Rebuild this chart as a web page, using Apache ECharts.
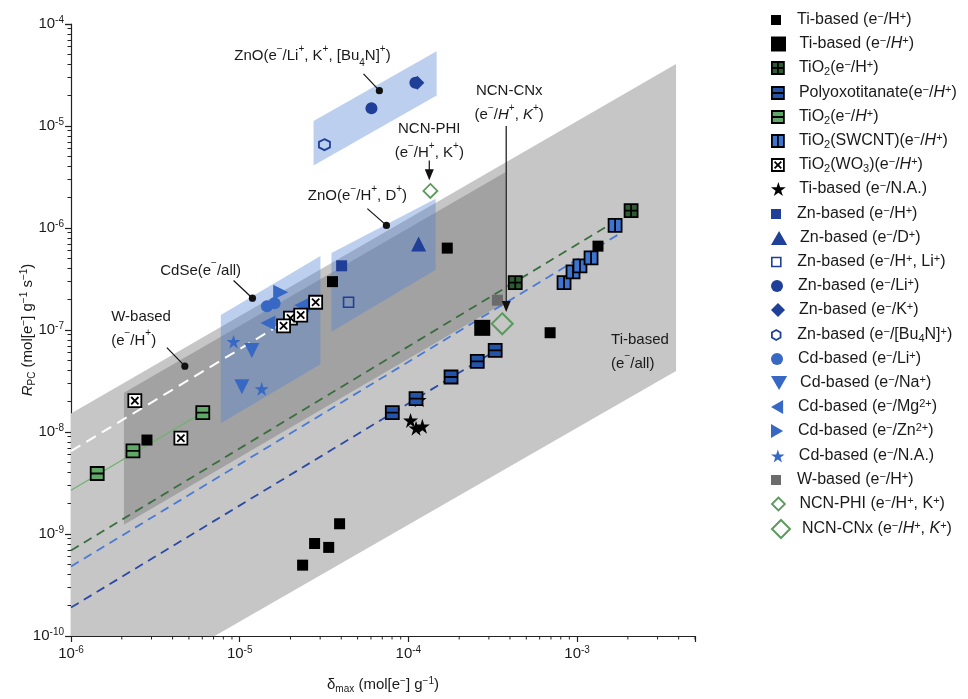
<!DOCTYPE html>
<html><head><meta charset="utf-8">
<script src="https://cdn.jsdelivr.net/npm/echarts@6/dist/echarts.min.js"></script>
<style>html,body{margin:0;padding:0;background:#fff}#c{width:968px;height:699px}</style>
</head><body><div id="c"></div>
<script>
const FONT = '"Liberation Sans", Arial, Helvetica, sans-serif';

// ---------- tick labels (exponents of 10) ----------
const xTickExp = [-6, -5, -4, -3];
const yTickExp = [-10, -9, -8, -7, -6, -5, -4];
const xMinorTicks = [2e-6,3e-6,4e-6,5e-6,6e-6,7e-6,8e-6,9e-6,
  2e-5,3e-5,4e-5,5e-5,6e-5,7e-5,8e-5,9e-5,
  2e-4,3e-4,4e-4,5e-4,6e-4,7e-4,8e-4,9e-4,
  2e-3,3e-3,4e-3,5e-3];

// ---------- marker data [delta_max, R_PC] ----------
const tiSmall = [[2.82e-6,8.34e-9],[2.36e-5,4.95e-10],[2.78e-5,8.07e-10],[3.37e-5,7.39e-10],[3.91e-5,1.26e-9],[3.55e-5,2.98e-7],[1.70e-4,6.35e-7],[6.92e-4,9.4e-8],[1.33e-3,6.64e-7]];
const tiLarge = [[2.74e-4,1.05e-7]];
const tio2Cross = [[4.30e-4,2.92e-7],[2.09e-3,1.48e-6]];
const polyoxo = [[8.03e-5,1.55e-8],[1.11e-4,2.12e-8],[1.79e-4,3.46e-8],[2.56e-4,4.93e-8],[3.27e-4,6.3e-8]];
const tio2Green = [[1.43e-6,3.92e-9],[2.33e-6,6.53e-9],[6.04e-6,1.55e-8]];
const swcnt = [[8.37e-4,2.92e-7],[9.46e-4,3.72e-7],[1.04e-3,4.26e-7],[1.21e-3,5.09e-7],[1.68e-3,1.06e-6]];
const wo3 = [[2.39e-6,2.03e-8],[4.48e-6,8.7e-9],[2.0e-5,1.31e-7],[1.82e-5,1.10e-7],[2.30e-5,1.40e-7],[2.82e-5,1.87e-7]];
const tiStar = [[1.16e-4,2.07e-8],[1.03e-4,1.30e-8],[1.11e-4,1.09e-8],[1.21e-4,1.14e-8]];
const znH = [[4.02e-5,4.26e-7]];
const znD = [[1.15e-4,6.95e-7]];
const znHLi = [[4.42e-5,1.87e-7]];
const znLi = [[6.04e-5,1.49e-5],[1.10e-4,2.66e-5]];
const znK = [[1.13e-4,2.66e-5]];
const znBu = [[3.18e-5,6.56e-6]];
const cdLi = [[1.45e-5,1.71e-7],[1.61e-5,1.83e-7]];
const cdNa = [[1.18e-5,6.3e-8],[1.03e-5,2.77e-8]];
const cdMg = [[1.47e-5,1.17e-7],[2.33e-5,1.75e-7]];
const cdZn = [[1.75e-5,2.34e-7]];
const cdNA = [[9.2e-6,7.69e-8],[1.35e-5,2.65e-8]];
const wH = [[3.37e-4,1.96e-7]];
const ncnPhi = [[1.35e-4,2.31e-6]];
const ncnCnx = [[3.60e-4,1.15e-7]];

// ---------- shaded regions (corner values) ----------
const bandTi = [[1e-6,1.52e-8],[3.86e-3,4.05e-5],[3.86e-3,3.96e-8],[7.1e-6,1e-10],[1e-6,1e-10]];
const bandW = [[2.06e-6,2.42e-8],[3.75e-4,3.52e-6],[3.75e-4,1.87e-7],[2.06e-6,1.23e-9]];
const bandCdSe = [[7.73e-6,1.40e-7],[3.01e-5,5.32e-7],[3.01e-5,4.61e-8],[7.73e-6,1.22e-8]];
const bandZnHD = [[3.50e-5,5.69e-7],[1.45e-4,1.93e-6],[1.45e-4,3.90e-7],[3.50e-5,9.62e-8]];
const bandZnLi = [[2.74e-5,1.12e-5],[1.47e-4,5.42e-5],[1.47e-4,1.99e-5],[2.74e-5,4.11e-6]];

// ---------- guide lines (end points) ----------
const lineWhite = [[1e-6,6.5e-9],[3.05e-5,1.98e-7]];
const lineGreen = [[1e-6,2.68e-9],[6.04e-6,1.55e-8]];
const lineDkGreen = [[1e-6,6.9e-10],[1.55e-3,1.07e-6]];
const lineBlue = [[1e-6,4.8e-10],[1.77e-3,8.7e-7]];
const lineDkBlue = [[1e-6,1.9e-10],[3.3e-4,6.3e-8]];

// ---------- annotations ----------
const annoPos = [[2.70e-5,4.84e-5],[1.33e-4,7.16e-6],[3.96e-4,1.67e-5],[4.99e-5,2.07e-6],[5.87e-6,3.81e-7],[1.73e-6,1.03e-7],[1.59e-3,6.17e-8]];
const annoText = [
  'ZnO(e{sup|−}/Li{sup|+}, K{sup|+}, [Bu{sub|4}N]{sup|+})',
  'NCN-PHI\n(e{sup|−}/H{sup|+}, K{sup|+})',
  'NCN-CNx\n(e{sup|−}/{i|H}{sup|+}, {i|K}{sup|+})',
  'ZnO(e{sup|−}/H{sup|+}, D{sup|+})',
  'CdSe(e{sup|−}/all)',
  'W-based\n(e{sup|−}/H{sup|+})',
  'Ti-based\n(e{sup|−}/all)'
];
const annoAlign = ['center','center','center','center','center','left','left'];
const pointers = [[5.42e-5,3.25e-5,6.73e-5,2.22e-5],[5.71e-5,1.55e-6,7.41e-5,1.06e-6],[9.2e-6,3.06e-7,1.19e-5,2.05e-7],[3.70e-6,6.73e-8,4.73e-6,4.42e-8]];
const arrows = [[1.33e-4,4.59e-6,2.94e-6],[3.80e-4,1.0e-5,1.50e-7]];

// ---------- symbols ----------
const SQ = 'path://M0 0H10V10H0Z';
const SQ_H = 'path://M0 0H10V10H0Z M0 5H10';
const SQ_V = 'path://M0 0H10V10H0Z M5 0V10';
const SQ_4 = 'path://M0 0H10V10H0Z M5 0V10 M0 5H10';
const SQ_X = 'path://M0 0H10V10H0Z M2.2 2.2L7.8 7.8 M7.8 2.2L2.2 7.8';
const TRI_UP = 'path://M5 0L10 8.66L0 8.66Z';
const TRI_DN = 'path://M0 0H10L5 8.66Z';
const TRI_LT = 'path://M8.66 0V10L0 5Z';
const TRI_RT = 'path://M0 0L8.66 5L0 10Z';
const DIA = 'path://M5 0L10 5L5 10L0 5Z';
const STAR = 'path://M50 2L61.2 36.6L97.6 36.5L68.1 57.9L79.4 92.5L50 71L20.6 92.5L31.9 57.9L2.4 36.5L38.8 36.6Z';
const HEX = 'path://M50 0L93.3 25L93.3 75L50 100L6.7 75L6.7 25Z';

const ZN = '#1f3f98', CD = '#3768c4', NONE = 'rgba(0,0,0,0)';
const defs = [
  {n:'s1', label:'Ti-based (e{sup|−}/H{sup|+})', data:tiSmall, sym:SQ, size:11, color:'#000', lg:10},
  {n:'s2', label:'Ti-based (e{sup|−}/{i|H}{sup|+})', data:tiLarge, sym:SQ, size:16, color:'#000', lg:15},
  {n:'s3', label:'TiO{sub|2}(e{sup|−}/H{sup|+})', data:tio2Cross, sym:SQ_4, size:13, color:'#2f5b33', bw:1.8, bc:'#000', lg:12},
  {n:'s4', label:'Polyoxotitanate(e{sup|−}/{i|H}{sup|+})', data:polyoxo, sym:SQ_H, size:13, color:'#2553a8', bw:1.8, bc:'#000', lg:12},
  {n:'s5', label:'TiO{sub|2}(e{sup|−}/{i|H}{sup|+})', data:tio2Green, sym:SQ_H, size:13, color:'#5fa868', bw:1.8, bc:'#000', lg:12},
  {n:'s6', label:'TiO{sub|2}(SWCNT)(e{sup|−}/{i|H}{sup|+})', data:swcnt, sym:SQ_V, size:13, color:'#3d74cf', bw:1.8, bc:'#000', lg:12},
  {n:'s7', label:'TiO{sub|2}(WO{sub|3})(e{sup|−}/{i|H}{sup|+})', data:wo3, sym:SQ_X, size:13, color:'#fff', bw:1.8, bc:'#000', lg:12, z:6},
  {n:'s8', label:'Ti-based (e{sup|−}/N.A.)', data:tiStar, sym:STAR, size:15, color:'#000', lg:14, z:3},
  {n:'s9', label:'Zn-based (e{sup|−}/H{sup|+})', data:znH, sym:SQ, size:11, color:ZN, lg:10},
  {n:'s10', label:'Zn-based (e{sup|−}/D{sup|+})', data:znD, sym:TRI_UP, size:15, color:ZN, lg:14},
  {n:'s11', label:'Zn-based (e{sup|−}/H{sup|+}, Li{sup|+})', data:znHLi, sym:SQ, size:10, color:NONE, bw:1.6, bc:ZN, lg:9},
  {n:'s12', label:'Zn-based (e{sup|−}/Li{sup|+})', data:znLi, sym:'circle', size:12, color:ZN, lg:12},
  {n:'s13', label:'Zn-based (e{sup|−}/K{sup|+})', data:znK, sym:DIA, size:14, color:ZN, lg:14},
  {n:'s14', label:'Zn-based (e{sup|−}/[Bu{sub|4}N]{sup|+})', data:znBu, sym:HEX, size:11, color:NONE, bw:1.8, bc:ZN, lg:10},
  {n:'s15', label:'Cd-based (e{sup|−}/Li{sup|+})', data:cdLi, sym:'circle', size:12, color:CD, lg:12},
  {n:'s16', label:'Cd-based (e{sup|−}/Na{sup|+})', data:cdNa, sym:TRI_DN, size:15, color:CD, lg:14},
  {n:'s17', label:'Cd-based (e{sup|−}/Mg{sup|2+})', data:cdMg, sym:TRI_LT, size:15, color:CD, lg:14},
  {n:'s18', label:'Cd-based (e{sup|−}/Zn{sup|2+})', data:cdZn, sym:TRI_RT, size:15, color:CD, lg:14},
  {n:'s19', label:'Cd-based (e{sup|−}/N.A.)', data:cdNA, sym:STAR, size:14, color:CD, lg:13},
  {n:'s20', label:'W-based (e{sup|−}/H{sup|+})', data:wH, sym:SQ, size:11, color:'#6b6b6b', lg:10},
  {n:'s21', label:'NCN-PHI (e{sup|−}/H{sup|+}, K{sup|+})', data:ncnPhi, sym:DIA, size:14, color:NONE, bw:1.8, bc:'#5b9a5e', lg:13},
  {n:'s22', label:'NCN-CNx (e{sup|−}/{i|H}{sup|+}, {i|K}{sup|+})', data:ncnCnx, sym:DIA, size:21, color:NONE, bw:2, bc:'#5b9a5e', lg:18}
];
const labels = {}; defs.forEach(d => labels[d.n] = d.label);

function rich(fs, lh, color) {
  return {
    sup: {fontSize: Math.round(fs*0.66), lineHeight: Math.max(4, lh - 2*Math.round(fs*0.4)), verticalAlign:'top', fontFamily: FONT, color: color, fill: color},
    sub: {fontSize: Math.round(fs*0.66), lineHeight: Math.round(lh*0.62), verticalAlign:'bottom', fontFamily: FONT, color: color, fill: color},
    i: {fontSize: fs, lineHeight: lh, fontStyle:'italic', fontFamily: FONT, color: color, fill: color},
    b: {fontSize: fs, lineHeight: lh, fontFamily: FONT, color: color, fill: color}
  };
}

function expLabel(v) {
  const e = Math.log10(v);
  const r = Math.round(e);
  if (Math.abs(e - r) > 1e-6) return '';
  return '{b|10}{s|' + r + '}';
}
const tickRich = {
  b: {fontSize: 15, lineHeight: 18, fontFamily: FONT, color:'#1a1a1a'},
  s: {fontSize: 10, lineHeight: 8, verticalAlign:'top', fontFamily: FONT, color:'#1a1a1a'}
};

function band(pts, fill) {
  return {type:'custom', coordinateSystem:'cartesian2d', silent:true, z:1, data: pts, encode:{x:0, y:1},
    renderItem: (params, api) => {
      if (params.dataIndex !== 0) return null;
      return {type:'polygon', shape:{points: pts.map(p => api.coord(p))}, style:{fill: fill}};
    }};
}
function guide(pts, color, width, dash) {
  return {type:'line', data: pts, showSymbol:false, symbol:'none', silent:true, z:2,
    lineStyle:{color: color, width: width, type: dash || 'solid'}};
}

const series = [
  band(bandTi, '#c6c6c6'),
  band(bandW, 'rgba(0,0,0,0.18)'),
  band(bandCdSe, 'rgba(80,130,210,0.38)'),
  band(bandZnHD, 'rgba(80,130,210,0.38)'),
  band(bandZnLi, 'rgba(80,130,210,0.38)'),
  guide(lineWhite, '#ffffff', 2, [11,7]),
  guide(lineGreen, '#6bb36b', 1.2),
  guide(lineDkGreen, '#3b6e3f', 1.8, [9,6]),
  guide(lineBlue, '#4a7ad4', 1.8, [9,6]),
  guide(lineDkBlue, '#2c49a6', 1.8, [9,6]),
  // x-axis minor ticks (at 2..9 of each decade)
  {type:'custom', coordinateSystem:'cartesian2d', silent:true, clip:false, z:8, data: xMinorTicks.map(v => [v, 1e-10]), encode:{x:0, y:1},
    renderItem: (params, api) => {
      const p = api.coord([api.value(0), api.value(1)]);
      return {type:'line', shape:{x1:p[0], y1:p[1], x2:p[0], y2:p[1]+3.5}, style:{stroke:'#222', lineWidth:1}};
    }},
  {type:'custom', coordinateSystem:'cartesian2d', silent:true, z:7, data: pointers, encode:{x:[0,2], y:[1,3]},
    renderItem: (params, api) => {
      const a = api.coord([api.value(0), api.value(1)]), b = api.coord([api.value(2), api.value(3)]);
      return {type:'group', children:[
        {type:'line', shape:{x1:a[0], y1:a[1], x2:b[0], y2:b[1]}, style:{stroke:'#111', lineWidth:1.2}},
        {type:'circle', shape:{cx:b[0], cy:b[1], r:3.6}, style:{fill:'#111'}}
      ]};
    }},
  {type:'custom', coordinateSystem:'cartesian2d', silent:true, z:7, data: arrows, encode:{x:0, y:[1,2]},
    renderItem: (params, api) => {
      const a = api.coord([api.value(0), api.value(1)]), b = api.coord([api.value(0), api.value(2)]);
      return {type:'group', children:[
        {type:'line', shape:{x1:a[0], y1:a[1], x2:b[0], y2:b[1]-6}, style:{stroke:'#111', lineWidth:1.2}},
        {type:'polygon', shape:{points:[[b[0], b[1]], [b[0]-4.5, b[1]-11], [b[0]+4.5, b[1]-11]]}, style:{fill:'#111'}}
      ]};
    }},
  {type:'custom', coordinateSystem:'cartesian2d', silent:true, z:7, data: annoPos, encode:{x:0, y:1},
    renderItem: (params, api) => {
      const p = api.coord([api.value(0), api.value(1)]);
      return {type:'text', x:p[0], y:p[1], style:{text: annoText[params.dataIndex], align: annoAlign[params.dataIndex], verticalAlign:'middle',
        fontSize:15, fontFamily: FONT, fill:'#1a1a1a', lineHeight:24, rich: rich(15, 24, '#1a1a1a')}};
    }}
];
defs.forEach(d => {
  series.push({type:'scatter', name:d.n, data:d.data, symbol:d.sym, symbolSize:d.size,
    z: d.z || 5, silent:true,
    itemStyle:{color:d.color, borderColor:d.bc || d.color, borderWidth:d.bw || 0, opacity:1}});
});

const legendRich = rich(16, 18, '#1a1a1a');
const legends = defs.map((d, i) => {
  const W = 32, H = d.lg, boxH = Math.max(H, 18);
  return {show:true, selectedMode:false, orient:'horizontal', left: 787 - W/2, top: Math.round(20 + i*24.2 - boxH/2),
    itemWidth: W, itemHeight: H, itemGap: 0, padding: 0, data:[d.n],
    formatter: n => labels[n],
    itemStyle: {borderWidth: d.bw || 0},
    textStyle: {fontSize:16, fontFamily: FONT, color:'#1a1a1a', lineHeight:18, rich: legendRich}};
});

const chart = echarts.init(document.getElementById('c'), null, {renderer:'canvas'});
chart.setOption({
  animation:false,
  backgroundColor:'#fff',
  grid:{left:71, right:273, top:24, bottom:53, containLabel:false},
  legend: legends,
  xAxis:{type:'log', logBase:10, min:1e-6, max:5e-3,
    name:'{b|δ}{sub|max} (mol[e{sup|−}] g{sup|−1})', nameLocation:'middle', nameGap:40, nameMoveOverlap:false,
    nameTextStyle:{fontSize:15, fontFamily:FONT, color:'#1a1a1a', lineHeight:18, rich: rich(15, 18, '#1a1a1a')},
    axisLine:{show:true, onZero:false, lineStyle:{color:'#222', width:1.2}},
    axisTick:{show:true, inside:false, length:6, lineStyle:{color:'#222', width:1.2}},
    minorTick:{show:false},
    splitLine:{show:false}, minorSplitLine:{show:false},
    axisLabel:{margin:9, formatter: v => (xTickExp.indexOf(Math.round(Math.log10(v))) >= 0 ? expLabel(v) : ''), rich: tickRich}},
  yAxis:{type:'log', logBase:10, min:1e-10, max:1e-4,
    name:'{i|R}{sub|PC} (mol[e{sup|−}] g{sup|−1} s{sup|−1})', nameLocation:'middle', nameGap:34, nameRotate:90, nameMoveOverlap:false,
    nameTextStyle:{fontSize:15, fontFamily:FONT, color:'#1a1a1a', lineHeight:18, rich: rich(15, 18, '#1a1a1a')},
    axisLine:{show:true, onZero:false, lineStyle:{color:'#222', width:1.2}},
    axisTick:{show:true, inside:false, length:6, lineStyle:{color:'#222', width:1.2}},
    minorTick:{show:true, splitNumber:9, length:3.5, lineStyle:{color:'#222', width:1}},
    splitLine:{show:false}, minorSplitLine:{show:false},
    axisLabel:{margin:7, formatter: v => (yTickExp.indexOf(Math.round(Math.log10(v))) >= 0 ? expLabel(v) : ''), rich: tickRich}},
  series: series
});
</script></body></html>
